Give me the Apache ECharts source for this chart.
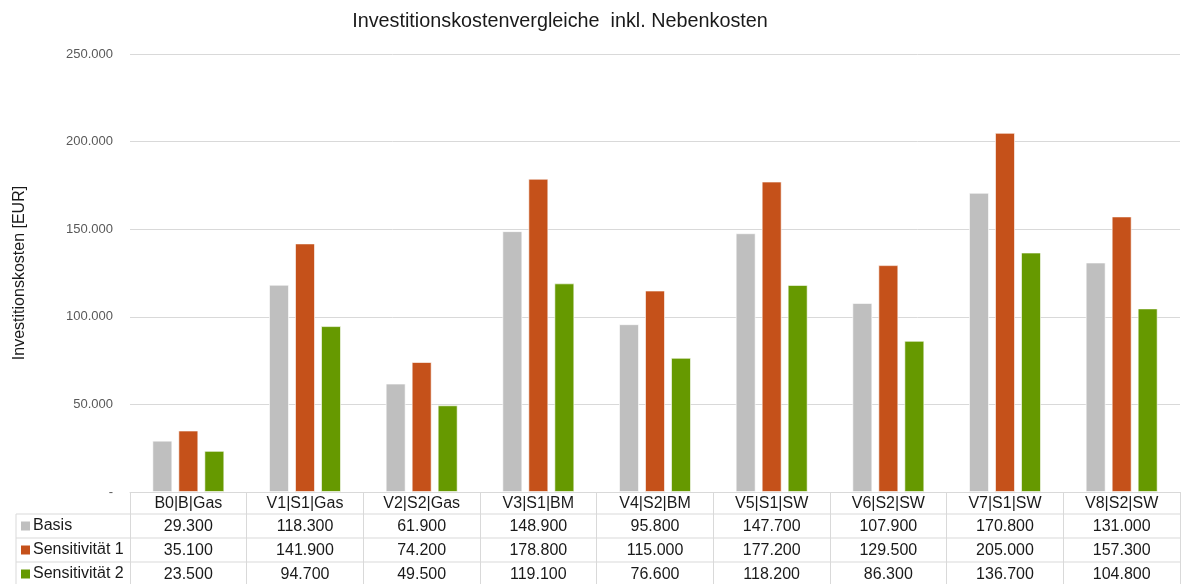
<!DOCTYPE html>
<html>
<head>
<meta charset="utf-8">
<script src="https://cdn.jsdelivr.net/npm/echarts@6/dist/echarts.min.js"></script>
<style>
  html, body { margin: 0; padding: 0; background: #fff; }
  #chart { width: 1183px; height: 584px; }
</style>
</head>
<body>
<div id="chart"></div>
<script>
// Variants (x categories)
const categories = ['B0|B|Gas', 'V1|S1|Gas', 'V2|S2|Gas', 'V3|S1|BM', 'V4|S2|BM', 'V5|S1|SW', 'V6|S2|SW', 'V7|S1|SW', 'V8|S2|SW'];
// Investment costs in EUR per scenario
const basis = [29300, 118300, 61900, 148900, 95800, 147700, 107900, 170800, 131000];
const sensitivitaet1 = [35100, 141900, 74200, 178800, 115000, 177200, 129500, 205000, 157300];
const sensitivitaet2 = [23500, 94700, 49500, 119100, 76600, 118200, 86300, 136700, 104800];
const seriesNames = ['Basis', 'Sensitivität 1', 'Sensitivität 2'];
const yTicks = [0, 50000, 100000, 150000, 200000, 250000];

const colors = ['#BFBFBF', '#C5511A', '#669900'];
const FONT = '"Liberation Sans", Arial, sans-serif';
const LINE = '#D9D9D9';
const TEXT = '#1a1a1a';

// layout of plot area and data table below it
const GRID_LEFT = 130, GRID_RIGHT = 3, GRID_TOP = 54, GRID_BOTTOM = 92;
const HEADER_H = 22, ROW_H = 24;
const TABLE_LEFT = 16;

function fmt(v) {
  if (v === 0) return '-';
  return String(v).replace(/\B(?=(\d{3})+(?!\d))/g, '.');
}

const chart = echarts.init(document.getElementById('chart'), null, { renderer: 'canvas' });
const W = 1183, H = 584;
const baseY = H - GRID_BOTTOM;
const rowLines = [baseY + HEADER_H, baseY + HEADER_H + ROW_H, baseY + HEADER_H + 2 * ROW_H];

// table grid lines
const graphics = rowLines.map(y => ({
  type: 'line', silent: true,
  shape: { x1: TABLE_LEFT, y1: y, x2: W - GRID_RIGHT, y2: y },
  style: { stroke: LINE, lineWidth: 1 }
}));
graphics.push({
  type: 'line', silent: true,
  shape: { x1: TABLE_LEFT, y1: rowLines[0], x2: TABLE_LEFT, y2: H },
  style: { stroke: LINE, lineWidth: 1 }
});
// legend keys in the first table column
seriesNames.forEach((name, i) => {
  const cy = rowLines[0] + ROW_H * i + ROW_H / 2;
  graphics.push({
    type: 'rect', silent: true,
    shape: { x: 21, y: cy - 4.5, width: 9, height: 9 },
    style: { fill: colors[i] }
  });
  graphics.push({
    type: 'text', silent: true,
    x: 33, y: cy,
    style: { text: name, font: '16px ' + FONT, fill: TEXT, verticalAlign: 'middle', align: 'left' }
  });
});

const option = {
  animation: false,
  backgroundColor: '#fff',
  color: colors,
  title: {
    text: 'Investitionskostenvergleiche  inkl. Nebenkosten',
    left: 555, top: 7, textAlign: 'center',
    textStyle: { fontFamily: FONT, fontSize: 19.8, fontWeight: 'normal', color: TEXT }
  },
  grid: { left: GRID_LEFT, right: GRID_RIGHT, top: GRID_TOP, bottom: GRID_BOTTOM, containLabel: false },
  xAxis: {
    type: 'category', data: categories, boundaryGap: true,
    axisLine: { show: true, lineStyle: { color: LINE, width: 1 } },
    axisTick: { show: true, interval: 0, length: GRID_BOTTOM, lineStyle: { color: LINE, width: 1 } },
    axisLabel: {
      interval: 0, margin: 1,
      formatter: (value, idx) => [
        '{h|' + value + '}',
        '{v|' + fmt(basis[idx]) + '}',
        '{v|' + fmt(sensitivitaet1[idx]) + '}',
        '{v|' + fmt(sensitivitaet2[idx]) + '}'
      ].join('\n'),
      rich: {
        h: { fontFamily: FONT, fontSize: 16, color: TEXT, lineHeight: HEADER_H, align: 'center' },
        v: { fontFamily: FONT, fontSize: 16, color: TEXT, lineHeight: ROW_H, align: 'center' }
      }
    }
  },
  yAxis: {
    type: 'value', min: 0, max: yTicks[yTicks.length - 1], interval: yTicks[1] - yTicks[0],
    name: 'Investitionskosten [EUR]', nameLocation: 'middle', nameRotate: 90, nameGap: 102,
    nameTextStyle: { fontFamily: FONT, fontSize: 16, color: TEXT },
    axisLine: { show: false }, axisTick: { show: false },
    axisLabel: { fontFamily: FONT, fontSize: 13, color: '#595959', margin: 17, formatter: v => fmt(v) },
    splitLine: { lineStyle: { color: LINE, width: 1 } }
  },
  series: [basis, sensitivitaet1, sensitivitaet2].map((d, i) => ({
    name: seriesNames[i], type: 'bar', data: d,
    barWidth: 20, barGap: '30%',
    itemStyle: { color: colors[i], borderColor: 'rgba(255,255,255,0.6)', borderWidth: 1 }
  })),
  graphic: graphics
};
chart.setOption(option);
</script>
</body>
</html>
